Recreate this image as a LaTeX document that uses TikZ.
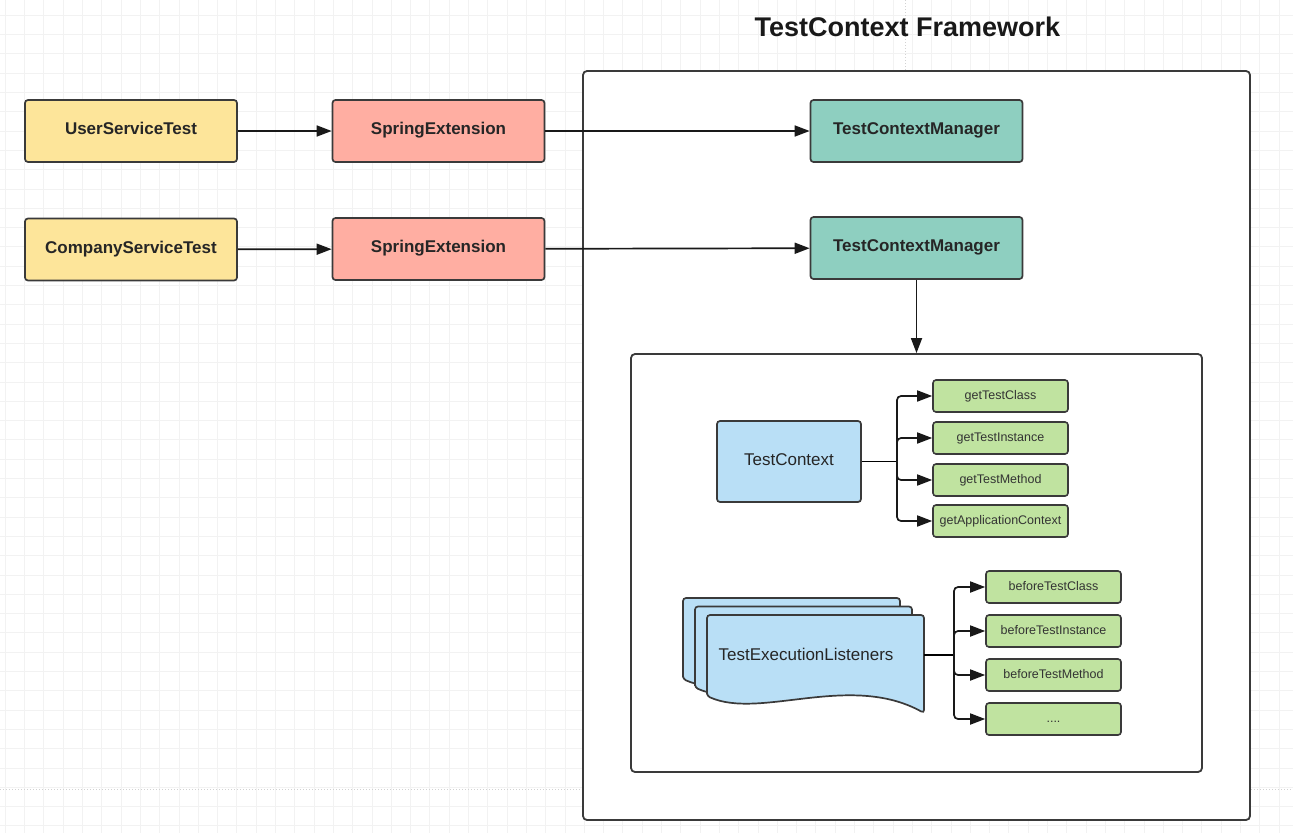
\documentclass[tikz,border=0pt]{standalone}
\usepackage{fontspec}
\setmainfont{Liberation Sans}
\usetikzlibrary{arrows.meta}
\definecolor{testyellow}{HTML}{FDE59A}
\definecolor{springred}{HTML}{FFAEA2}
\definecolor{managerteal}{HTML}{8ECFC0}
\definecolor{contextblue}{HTML}{B9DFF6}
\definecolor{methodgreen}{HTML}{C0E3A0}
\definecolor{boxline}{HTML}{3A3A3A}
\definecolor{gridgray}{HTML}{F2F2F2}
\begin{document}
\begin{tikzpicture}
		[x=1pt,y=-1pt,
		box/.style={draw=boxline,line width=1.7pt,rounded corners=3pt,minimum width=212pt,minimum height=62pt,inner sep=0pt,text height=1.5ex,text depth=0pt,text=black!85,font=\bfseries\fontsize{17}{20}\selectfont},
		testbox/.style={box,fill=testyellow},
		springbox/.style={box,fill=springred},
		managerbox/.style={box,fill=managerteal},
		framebox/.style={draw=boxline,line width=1.8pt,rounded corners=4pt,fill=white,inner sep=0pt},
		method/.style={draw=boxline,line width=1.6pt,rounded corners=3pt,fill=methodgreen,minimum width=135pt,minimum height=32pt,inner sep=0pt,text height=1.5ex,text depth=0pt,text=black!80,font=\fontsize{12.5}{14}\selectfont},
		sheet/.style={draw=boxline,line width=1.7pt,fill=contextblue,rounded corners=3pt},
		arr/.style={-{Triangle[length=15pt,width=11pt]},line width=1.7pt,draw=black!90}]
		
		\fill[white] (0,0) rectangle (1293,833);
		\useasboundingbox (0,0) rectangle (1293,833);
		\begin{scope}[shift={(5.2,15.2)}]
			\draw[gridgray,line width=0.8pt,step=19.3pt] (-5.2,-15.2) grid (1288,818);
		\end{scope}
		\draw[gray!35,line width=1pt,dotted] (0,789) -- (1293,789);
		\draw[gray!35,line width=1pt,dotted] (905.5,0) -- (905.5,71);
		
		\node[font=\bfseries\fontsize{27}{32}\selectfont,text=black!90] (title) at (907.5,27) {TestContext Framework};
		\node[framebox,minimum width=667pt,minimum height=749pt] (fw) at (916.5,445.5) {};
		\node[framebox,minimum width=571pt,minimum height=418pt] (lc) at (916.5,563) {};
		
		\node[testbox] (ust) at (131,131) {UserServiceTest};
		\node[testbox] (cst) at (131,249.5) {CompanyServiceTest};
		\node[springbox] (se1) at (438.5,131) {SpringExtension};
		\node[springbox] (se2) at (438.5,249) {SpringExtension};
		\node[managerbox] (tcm1) at (916.5,131) {TestContextManager};
		\node[managerbox] (tcm2) at (916.5,248) {TestContextManager};
		
		\draw[arr] (ust) -- (se1);
		\draw[arr] (cst) -- (se2);
		\draw[arr] (se1) -- (tcm1);
		\draw[arr] (se2) -- (tcm2);
		\draw[arr] (tcm2) -- (lc);
		
		\node[box,fill=contextblue,minimum width=144pt,minimum height=81pt,font=\fontsize{17}{20}\selectfont] (tc) at (789,461.5) {TestContext};
		\foreach \y/\n/\t in {396/gtc/getTestClass,438/gti/getTestInstance,480/gtm/getTestMethod,521/gac/getApplicationContext}
			\node[method] (\n) at (1000.5,\y) {\t};
		\coordinate (tcfork) at (897,461.5);
		\draw[line width=1.7pt] (tc) -- (tcfork);
		\foreach \n in {gtc,gti,gtm,gac}
			\draw[arr,rounded corners=4pt] (tcfork) |- (\n.west);
		
		\foreach \dx/\dy in {-24/-17,-12/-8.5,0/0}
			\draw[sheet,shift={(\dx,\dy)}] (707,696) -- (707,615) -- (924,615) -- (924,713) .. controls (850,672) and (760,720) .. (707,696) -- cycle;
		\node[text=black!85,font=\fontsize{17}{20}\selectfont] (tel) at (806,654) {TestExecutionListeners};
		\coordinate (telout) at (924,655);
		\foreach \y/\n/\t in {587/btc/beforeTestClass,631/bti/beforeTestInstance,675/btm/beforeTestMethod}
			\node[method] (\n) at (1053.5,\y) {\t};
		\node[method] (bmore) at (1053.5,719) {....};
		\coordinate (telfork) at (954,655);
		\draw[line width=1.7pt] (telout) -- (telfork);
		\foreach \n in {btc,bti,btm,bmore}
			\draw[arr,rounded corners=4pt] (telfork) |- (\n.west);
	
	\end{tikzpicture}
\end{document}
